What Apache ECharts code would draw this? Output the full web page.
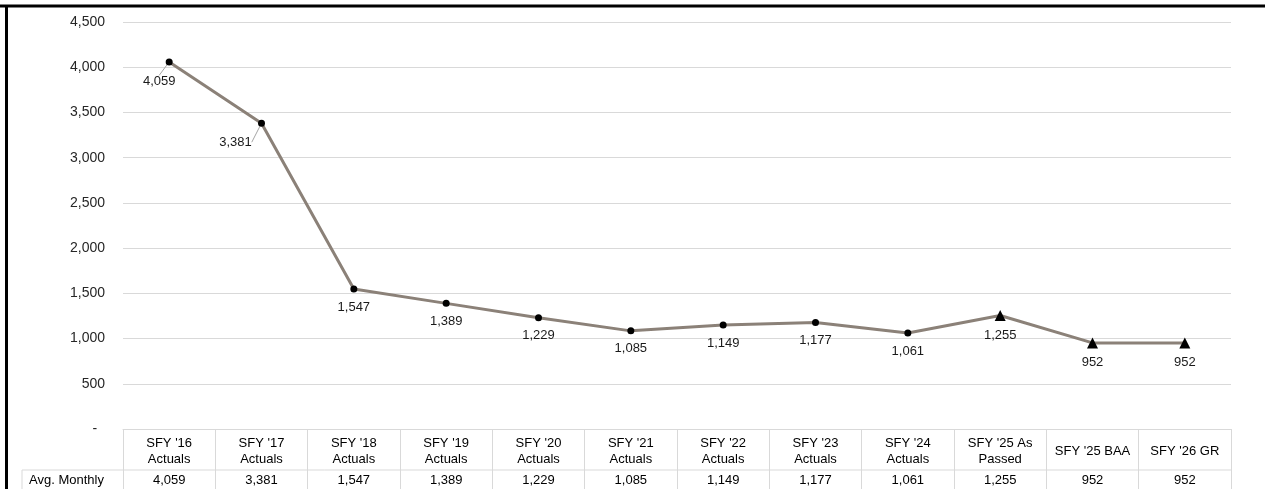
<!DOCTYPE html>
<html>
<head>
<meta charset="utf-8">
<script src="https://cdn.jsdelivr.net/npm/echarts@6/dist/echarts.min.js"></script>
<style>
html,body{margin:0;padding:0;background:#fff;}
#chart{position:absolute;left:0;top:0;width:1265px;height:489px;}
</style>
</head>
<body>
<div id="chart"></div>
<script>
const categories = ["SFY '16\nActuals","SFY '17\nActuals","SFY '18\nActuals","SFY '19\nActuals","SFY '20\nActuals","SFY '21\nActuals","SFY '22\nActuals","SFY '23\nActuals","SFY '24\nActuals","SFY '25 As\nPassed","SFY '25 BAA","SFY '26 GR"];
const avgMonthly = [4059,3381,1547,1389,1229,1085,1149,1177,1061,1255,952,952];
const markerShapes = ['circle','circle','circle','circle','circle','circle','circle','circle','circle','triangle','triangle','triangle'];
const leaderLines = [true,true,false,false,false,false,false,false,false,false,false,false];
const rowLabel = 'Avg. Monthly';
const yTicks = {min:0, max:4500, interval:500};

const FONT = 'Liberation Sans, Arial, sans-serif';
const fmt = v => v.toLocaleString('en-US');
const chart = echarts.init(document.getElementById('chart'), null, {renderer:'canvas'});

const seriesData = avgMonthly.map((v,i)=>({
  value: v,
  symbol: markerShapes[i],
  symbolSize: markerShapes[i]==='triangle' ? 11 : 7,
  labelLine:{show: leaderLines[i], lineStyle:{color:'#a6a6a6', width:1}}
}));

const option = {
  animation:false,
  backgroundColor:'#fff',
  grid:{left:123, right:34, top:22, bottom:60, containLabel:false},
  xAxis:{
    type:'category', data:categories, boundaryGap:true,
    axisLine:{show:true, lineStyle:{color:'#d9d9d9', width:1}},
    axisTick:{show:true, interval:0, length:60, lineStyle:{color:'#d9d9d9', width:1}},
    axisLabel:{show:false},
    splitLine:{show:false}
  },
  yAxis:{
    type:'value', min:yTicks.min, max:yTicks.max, interval:yTicks.interval,
    axisLine:{show:false}, axisTick:{show:false},
    splitLine:{lineStyle:{color:'#d9d9d9', width:1}},
    axisLabel:{margin:18, color:'#262626', fontFamily:FONT, fontSize:14,
      formatter: v => v===0 ? '-  ' : fmt(v)}
  },
  series:[{
    type:'line', data:seriesData,
    lineStyle:{color:'#8b8178', width:3},
    itemStyle:{color:'#000'},
    label:{show:true, position:'bottom', distance:8, color:'#1a1a1a', fontFamily:FONT, fontSize:13,
      formatter: p => fmt(p.value)},
    labelLine:{show:false},
    labelLayout: function(p){
      if (p.dataIndex===0) return {dx:-10, dy:2};
      if (p.dataIndex===1) return {dx:-26, dy:1};
      return {};
    }
  }],
  graphic:[]
};
chart.setOption(option);

// Data table under the axis, x positions from the category axis scale
const g = [];
const step = chart.convertToPixel({xAxisIndex:0}, 1) - chart.convertToPixel({xAxisIndex:0}, 0);
const gridRight = chart.convertToPixel({xAxisIndex:0}, categories.length-1) + step/2;
const y0 = chart.convertToPixel({yAxisIndex:0}, 0);
const rowSplit = y0 + 41;
g.push({type:'line', shape:{x1:22, y1:rowSplit, x2:gridRight, y2:rowSplit}, style:{stroke:'#d9d9d9', lineWidth:1}, silent:true});
g.push({type:'line', shape:{x1:22, y1:rowSplit, x2:22, y2:489}, style:{stroke:'#d9d9d9', lineWidth:1}, silent:true});
g.push({type:'text', x:29, y:rowSplit+10, style:{text:rowLabel, fill:'#000', font:'13px '+FONT, align:'left', verticalAlign:'middle'}});
categories.forEach((c,i)=>{
  const cx = chart.convertToPixel({xAxisIndex:0}, i);
  g.push({type:'text', x:cx, y:y0+22, style:{text:c, fill:'#000', font:'13px '+FONT, align:'center', verticalAlign:'middle', lineHeight:16}});
  g.push({type:'text', x:cx, y:rowSplit+10, style:{text:fmt(avgMonthly[i]), fill:'#000', font:'13px '+FONT, align:'center', verticalAlign:'middle'}});
});
// outer frame (top and left thick border)
g.push({type:'line', shape:{x1:0, y1:6, x2:1265, y2:6}, style:{stroke:'#000', lineWidth:3}, silent:true});
g.push({type:'line', shape:{x1:6.5, y1:5, x2:6.5, y2:489}, style:{stroke:'#000', lineWidth:3}, silent:true});
chart.setOption({graphic:g});
</script>
</body>
</html>
